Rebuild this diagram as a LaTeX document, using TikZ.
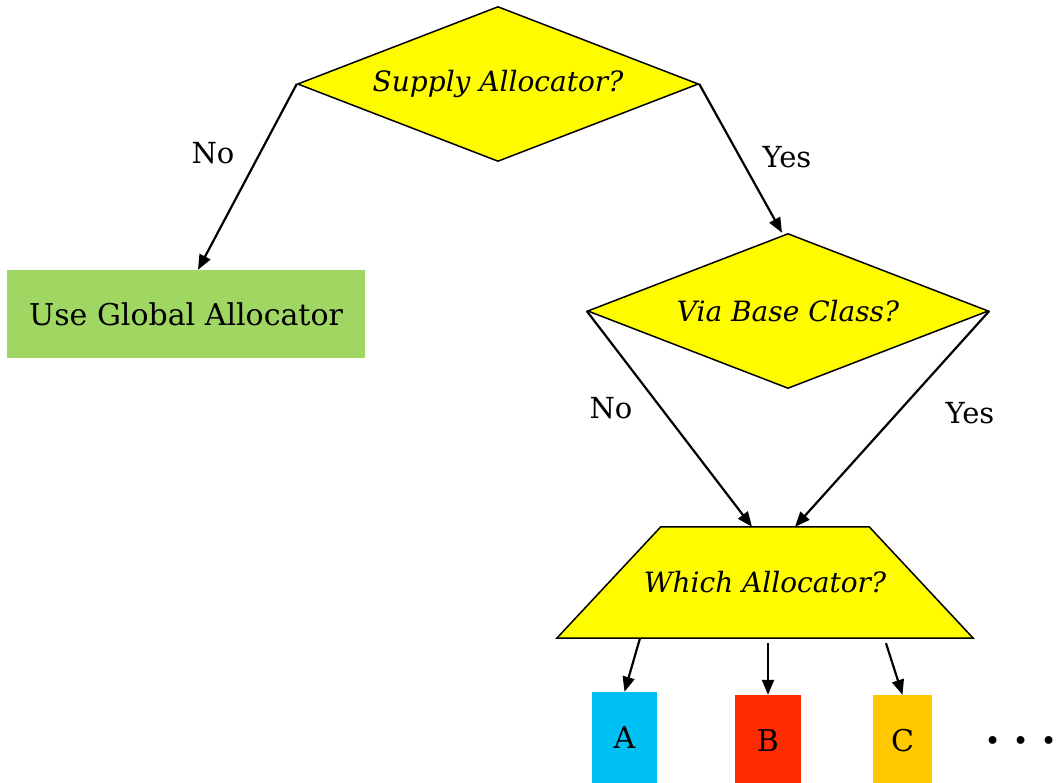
\documentclass[tikz,border=0pt]{standalone}
\usepackage{fontspec}
\setmainfont{DejaVu Serif}
\usetikzlibrary{shapes.geometric,arrows.meta,backgrounds}
\definecolor{qyellow}{HTML}{FFFC00}
\definecolor{qgreen}{HTML}{A0D662}
\definecolor{qcyan}{HTML}{00BFF3}
\definecolor{qred}{HTML}{FF2A00}
\definecolor{qorange}{HTML}{FFC800}
\begin{document}
\begin{tikzpicture}[x=1pt,y=-1pt,
  decision/.style={diamond,draw,fill=qyellow,line width=1.5pt,inner sep=0pt,shape aspect=2.59,minimum width=401pt,minimum height=155pt,font=\fontsize{28}{32}\selectfont\itshape},
  choice/.style={rectangle,inner sep=0pt,minimum width=416pt,minimum height=111pt,font=\fontsize{28}{32}\selectfont\itshape},
  alloc/.style={rectangle,inner sep=0pt,font=\fontsize{30}{34}\selectfont},
  lbl/.style={font=\fontsize{29}{33}\selectfont},
  flow/.style={line width=2.2pt,-{Triangle[length=15pt,width=12pt]}}]
        \useasboundingbox (0,0) rectangle (1060,782);
        \node[decision] at (498,84) (supply) {Supply Allocator?};
        \node[alloc, fill=qgreen, minimum width=358pt, minimum height=88pt] at (186,314) (global) {Use Global Allocator};
        \node[decision] at (788,311) (base) {Via Base Class?};
        \node[choice] at (765,582.5) (which) {Which Allocator?};
        \begin{scope}[on background layer]
            \filldraw[fill=qyellow, line width=1.5pt] (which.south west) -- (which.south east)
                -- ([xshift=-104pt]which.north east) -- ([xshift=104pt]which.north west) -- cycle;
        \end{scope}
        \node[alloc, fill=qcyan, minimum width=65pt, minimum height=92pt] at (624.5,738) (a) {A};
        \node[alloc, fill=qred, minimum width=66pt, minimum height=92pt] at (768,741) (b) {B};
        \node[alloc, fill=qorange, minimum width=59pt, minimum height=92pt] at (902.5,741) (c) {C};
        \node[inner sep=0pt, font=\fontsize{60}{64}\selectfont] at (1021,740) (more) {.\hspace{9pt}.\hspace{9pt}.};

        \node[lbl] at (213,153) (no1) {No};
        \node[lbl] at (787,157) (yes1) {Yes};
        \node[lbl] at (611,408) (no2) {No};
        \node[lbl] at (970,413) (yes2) {Yes};

        \draw[flow] (supply.west) -- ([xshift=12pt]global.north);
        \draw[flow] (supply.east) -- ([xshift=-6pt]base.north);
        \draw[flow] (base.west) -- ([xshift=-13pt]which.north);
        \draw[flow] (base.east) -- ([xshift=30pt]which.north);
        \draw[flow] ([xshift=-125pt]which.south) -- (a.north);
        \draw[flow] ([yshift=-5pt]which.south -| b.north) -- (b.north);
        \draw[flow] ([xshift=121pt,yshift=-5pt]which.south) -- (c.north);
\end{tikzpicture}
\end{document}
